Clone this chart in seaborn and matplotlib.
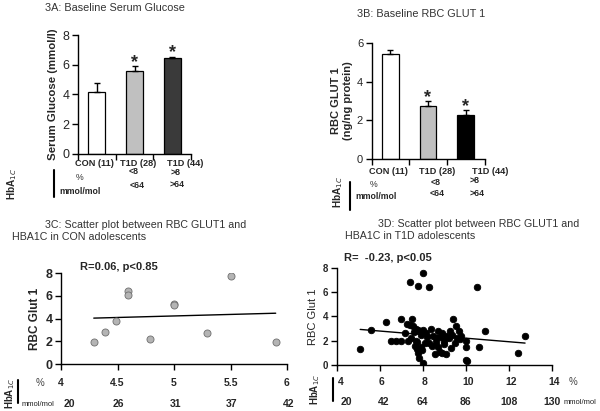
import matplotlib
matplotlib.use("Agg")
import matplotlib.pyplot as plt
import matplotlib.transforms as mtrans
import seaborn as sns
import numpy as np
import pandas as pd

sns.set_style("ticks")
plt.rcParams['font.family'] = ['Liberation Sans', 'DejaVu Sans']

# ---------------- data ----------------
groups = ["CON (11)", "T1D (28)", "T1D (44)"]
hba_pct = ["%", "<8", ">8"]
hba_mmol = ["mmol/mol", "<64", ">64"]

glucose_mean = [4.2, 5.55, 6.45]
glucose_err = [0.55, 0.35, 0.1]
glucose_sig = [False, True, True]
glucose_colors = ["#ffffff", "#c0c0c0", "#3a3a3a"]

glut_mean = [5.42, 2.72, 2.3]
glut_err = [0.23, 0.28, 0.23]
glut_sig = [False, True, True]
glut_colors = ["#ffffff", "#c0c0c0", "#000000"]

con_hba = [4.29, 4.39, 4.49, 4.59, 4.59, 4.79, 5.0, 5.0, 5.29, 5.5, 5.9]
con_glut = [1.97, 2.85, 3.79, 6.47, 6.12, 2.2, 5.26, 5.18, 2.7, 7.79, 1.97]
con_pct_ticks = [4, 4.5, 5, 5.5, 6]
con_pct_labels = ["4", "4.5", "5", "5.5", "6"]
con_mmol_labels = ["20", "26", "31", "37", "42"]

t1d_hba = [5.1, 5.6, 6.3, 6.55, 6.75, 7.0, 7.0, 7.2, 7.25, 7.4, 7.4, 7.45, 7.5, 7.55,
           7.6, 7.65, 7.7, 7.7, 7.75, 7.75, 7.8, 7.8, 7.8, 7.85, 7.9, 7.9, 8.0, 8.0,
           8.0, 8.1, 8.2, 8.3, 8.3, 8.4, 8.5, 8.55, 8.6, 8.7, 8.7, 8.8, 8.8, 8.9, 8.9,
           9.0, 9.0, 9.1, 9.1, 9.2, 9.3, 9.35, 9.4, 9.5, 9.55, 9.6, 9.7, 9.75, 10.0,
           10.0, 10.0, 10.05, 10.5, 10.6, 10.9, 12.4, 12.75, 8.15, 7.3, 8.45, 9.25,
           7.95, 8.6, 9.8]
t1d_glut = [1.35, 2.85, 3.5, 2.0, 2.0, 2.0, 3.8, 2.6, 3.4, 6.8, 3.3, 2.2, 3.75, 3.2,
            2.7, 1.6, 3.0, 2.0, 1.9, 1.3, 6.5, 2.9, 1.0, 0.6, 1.5, 2.5, 7.6, 0.2,
            2.9, 1.8, 2.3, 6.45, 1.8, 3.0, 2.4, 0.9, 1.9, 2.8, 1.5, 2.3, 1.1, 2.6, 0.95,
            2.0, 1.7, 2.4, 0.9, 2.2, 1.4, 2.5, 3.75, 1.8, 3.2, 2.2, 2.8, 2.1, 2.0,
            1.5, 0.4, 0.3, 6.45, 1.5, 2.8, 1.0, 2.35, 2.6, 2.0, 1.6, 2.8,
            1.2, 2.2, 2.4]
t1d_pct_ticks = [4, 6, 8, 10, 12, 14]
t1d_pct_labels = ["4", "6", "8", "10", "12", "14"]
t1d_mmol_labels = ["20", "42", "64", "86", "108", "130"]

# ---------------- figure ----------------
W, H = 600, 411
fig = plt.figure(figsize=(6, 4.11), dpi=100)


def fx(x):
    return x / W


def fy(y):
    return 1 - y / H


def box(l, r, t, b):
    return [fx(l), fy(b), (r - l) / W, (b - t) / H]


def ftext(x, y, s, **kw):
    kw.setdefault("va", "center")
    fig.text(fx(x), fy(y), s, **kw)


def style_axes(ax):
    sns.despine(ax=ax)
    for sp in ("left", "bottom"):
        ax.spines[sp].set_color("black")
        ax.spines[sp].set_linewidth(1.0)
    ax.tick_params(direction="out", length=4, width=1.0, color="black", pad=2)


def bar_panel(ax, means, errs, sig, colors, ymax, ystep, ylabel, ysize, ytick_size):
    df = pd.DataFrame({"group": groups, "value": means})
    sns.barplot(data=df, x="group", y="value", hue="group", palette=colors,
                order=groups, hue_order=groups, width=0.45, edgecolor="black",
                linewidth=0.9, legend=False, ax=ax)
    ax.errorbar(range(len(means)), means, yerr=[np.zeros(len(errs)), errs],
                fmt="none", ecolor="black", elinewidth=1.0, capsize=2.5,
                capthick=1.0)
    for i, (m, e, s) in enumerate(zip(means, errs, sig)):
        if s:
            ax.annotate("*", (i, m + e), xytext=(0, -0.5), textcoords="offset points",
                        ha="center", va="baseline", fontsize=13, fontweight="bold")
    ax.set_xlim(-0.5, 2.5)
    ax.set_ylim(0, ymax)
    ax.set_yticks(np.arange(0, ymax + 0.01, ystep))
    ax.set_xticks([-0.5, 0.5, 1.5, 2.5])
    ax.set_xticklabels([])
    ax.set_xlabel("")
    ax.set_ylabel(ylabel, fontsize=ysize, fontweight="bold", labelpad=3)
    style_axes(ax)
    ax.tick_params(axis="y", labelsize=ytick_size)


CAT_FS = 6.6
ROW_FS = 6.3

# ---- Panel A ----
axA = fig.add_axes(box(78, 191, 35, 154))
bar_panel(axA, glucose_mean, glucose_err, glucose_sig, glucose_colors, 8, 2,
          "Serum Glucose (mmol/l)", 8.2, 9)
ftext(45, 8, "3A: Baseline Serum Glucose", fontsize=7.8, color="#333333")
for xc, g in zip([94.5, 138, 185], groups):
    ftext(xc, 163, g, ha="center", fontsize=CAT_FS, fontweight="bold")
ftext(80, 177, hba_pct[0], ha="center", fontsize=ROW_FS, color="#333333")
ftext(134, 171.5, hba_pct[1], ha="center", fontsize=ROW_FS, fontweight="bold")
ftext(176, 172.5, hba_pct[2], ha="center", fontsize=ROW_FS, fontweight="bold")
ftext(80, 191, hba_mmol[0], ha="center", fontsize=ROW_FS, fontweight="bold")
ftext(137, 185, hba_mmol[1], ha="center", fontsize=ROW_FS, fontweight="bold")
ftext(177, 184, hba_mmol[2], ha="center", fontsize=ROW_FS, fontweight="bold")
ftext(12, 184, "HbA$_{1C}$", ha="center", rotation=90, fontsize=7.2, fontweight="bold")
fig.add_artist(plt.Line2D([fx(54), fx(54)], [fy(170), fy(197)], color="black", lw=1.5))

# ---- Panel B ----
axB = fig.add_axes(box(371.5, 484.5, 43, 159))
bar_panel(axB, glut_mean, glut_err, glut_sig, glut_colors, 6, 2,
          "RBC GLUT 1\n(ng/ng protein)", 8, 8)
ftext(357, 14, "3B: Baseline RBC GLUT 1", fontsize=7.8, color="#333333")
for xc, g in zip([388, 437, 490], groups):
    ftext(xc, 171, g, ha="center", fontsize=CAT_FS, fontweight="bold")
ftext(374, 184, hba_pct[0], ha="center", fontsize=ROW_FS, color="#333333")
ftext(436, 182, hba_pct[1], ha="center", fontsize=ROW_FS, fontweight="bold")
ftext(475, 180, hba_pct[2], ha="center", fontsize=ROW_FS, fontweight="bold")
ftext(376, 196, hba_mmol[0], ha="center", fontsize=ROW_FS, fontweight="bold")
ftext(437, 193, hba_mmol[1], ha="center", fontsize=ROW_FS, fontweight="bold")
ftext(477, 193, hba_mmol[2], ha="center", fontsize=ROW_FS, fontweight="bold")
ftext(338, 192, "HbA$_{1C}$", ha="center", rotation=90, fontsize=7.2, fontweight="bold")
fig.add_artist(plt.Line2D([fx(350), fx(350)], [fy(182), fy(210)], color="black", lw=1.5))


def scatter_panel(ax, xs, ys, xlim, ticks, face, edge, size, ylab, ylab_weight,
                  ylab_size, ytick_size):
    df = pd.DataFrame({"hba": xs, "glut": ys})
    sns.scatterplot(data=df, x="hba", y="glut", color=face, edgecolor=edge,
                    linewidth=0.6, s=size, ax=ax, zorder=3)
    sns.regplot(data=df, x="hba", y="glut", scatter=False, ci=None, truncate=True,
                line_kws={"color": "black", "lw": 1.0}, ax=ax)
    ax.set_xlim(*xlim)
    ax.set_ylim(0, 8)
    ax.set_yticks([0, 2, 4, 6, 8])
    ax.set_xticks(ticks)
    ax.set_xticklabels([])
    ax.set_xlabel("")
    ax.set_ylabel(ylab, fontsize=ylab_size, fontweight=ylab_weight, labelpad=3)
    style_axes(ax)
    ax.tick_params(axis="y", labelsize=ytick_size)
    for lab in ax.get_yticklabels():
        lab.set_fontweight("bold")


# ---- Panel C ----
axC = fig.add_axes(box(61, 287, 273.3, 364))
scatter_panel(axC, con_hba, con_glut, (4, 6), con_pct_ticks,
              "#b4b4b4", "#6e6e6e", 26, "RBC Glut 1", "bold", 8.5, 9)
transC = mtrans.blended_transform_factory(axC.transData, fig.transFigure)
for i, (t, p, m) in enumerate(zip(con_pct_ticks, con_pct_labels, con_mmol_labels)):
    axC.text(t, fy(383), p, transform=transC, ha="center", va="center",
             fontsize=7.5, fontweight="bold")
    axC.text(t + (0.02 if i == 0 else 0.01), fy(404), m, transform=transC,
             ha="left" if i == 0 else "center", va="center", fontsize=7.5,
             fontweight="bold")
ftext(40, 383, "%", ha="center", fontsize=7, color="#444444")
ftext(22, 404, "mmol/mol", ha="left", fontsize=5.5, color="#222222")
ftext(10, 393, "HbA$_{1C}$", ha="center", rotation=90, fontsize=7, fontweight="bold")
fig.add_artist(plt.Line2D([fx(17.5), fx(17.5)], [fy(380), fy(403)], color="black", lw=1.5))
ftext(45, 225, "3C: Scatter plot between RBC GLUT1 and", fontsize=7.7, color="#333333")
ftext(12, 237, "HBA1C in CON adolescents", fontsize=7.7, color="#333333")
ftext(80, 267, "R=0.06, p<0.85", fontsize=8, fontweight="bold")

# ---- Panel D ----
axD = fig.add_axes(box(336.5, 552, 267.7, 365))
scatter_panel(axD, t1d_hba, t1d_glut, (4, 14), t1d_pct_ticks,
              "black", "black", 22, "RBC Glut 1", "normal", 8, 7)
transD = mtrans.blended_transform_factory(axD.transData, fig.transFigure)
for i, (t, p, m) in enumerate(zip(t1d_pct_ticks, t1d_pct_labels, t1d_mmol_labels)):
    axD.text(t + (0.05 if i == 0 else 0.1), fy(382), p, transform=transD,
             ha="left" if i == 0 else "center", va="center", fontsize=7.5,
             fontweight="bold")
    axD.text(t + (0.2 if i <= 1 else 0.0), fy(402), m,
             transform=transD, ha="left" if i == 0 else "center", va="center",
             fontsize=7.5, fontweight="bold")
ftext(573, 382, "%", ha="center", fontsize=7, color="#444444")
ftext(564, 402, "mmol/mol", ha="left", fontsize=5.5, color="#222222")
ftext(315, 389, "HbA$_{1C}$", ha="center", rotation=90, fontsize=7, fontweight="bold")
fig.add_artist(plt.Line2D([fx(333), fx(333)], [fy(378), fy(401)], color="black", lw=1.5))
ftext(378, 224, "3D: Scatter plot between RBC GLUT1 and", fontsize=7.7, color="#333333")
ftext(345, 236, "HBA1C in T1D adolescents", fontsize=7.7, color="#333333")
ftext(344, 258, "R=  -0.23, p<0.05", fontsize=8, fontweight="bold")

fig.savefig("out.png", dpi=100)
